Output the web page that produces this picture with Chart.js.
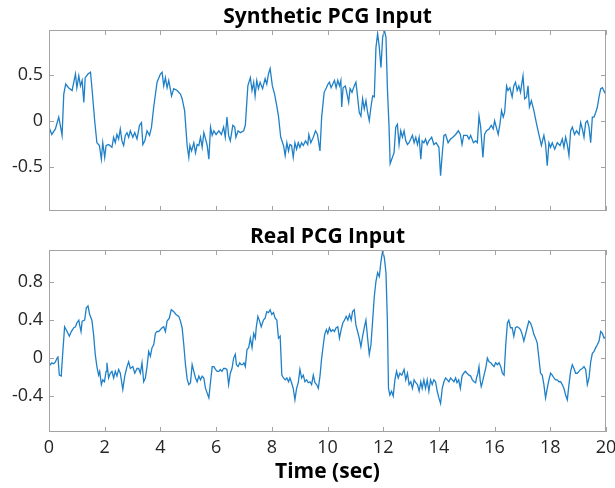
<!DOCTYPE html>
<html>
<head>
<meta charset="utf-8">
<script src="https://cdn.jsdelivr.net/npm/chart.js@4"></script>
<style>
  body { margin: 0; background: #fff; }
  #wrap { position: relative; width: 615px; height: 488px; }
  canvas { position: absolute; left: 0; }
</style>
</head>
<body>
<div id="wrap">
  <canvas id="synth-chart" width="615" height="220" style="top:0"></canvas>
  <canvas id="real-chart" width="615" height="268" style="top:220px"></canvas>
</div>
<script>
// tick labels
const xTicks = [0, 2, 4, 6, 8, 10, 12, 14, 16, 18, 20];
const synthTicks = [-0.5, 0, 0.5];
const realTicks = [-0.4, 0, 0.4, 0.8];

// synthetic PCG
const synthTime = [0.00,0.05,0.10,0.23,0.35,0.40,0.47,0.53,0.60,0.70,0.83,0.95,1.00,1.07,1.13,1.19,1.25,1.30,1.40,1.49,1.55,1.64,1.72,1.81,1.88,1.93,2.00,2.05,2.14,2.26,2.32,2.38,2.44,2.50,2.56,2.62,2.68,2.74,2.80,2.86,2.92,3.01,3.08,3.16,3.25,3.32,3.37,3.44,3.52,3.61,3.68,3.76,3.88,4.00,4.06,4.12,4.18,4.24,4.30,4.40,4.48,4.60,4.72,4.78,4.87,4.96,5.02,5.06,5.12,5.20,5.26,5.32,5.38,5.44,5.50,5.56,5.64,5.68,5.74,5.80,5.86,5.92,6.00,6.10,6.19,6.27,6.33,6.39,6.45,6.51,6.60,6.67,6.71,6.79,6.87,6.99,7.05,7.14,7.23,7.29,7.35,7.40,7.46,7.52,7.58,7.67,7.76,7.82,7.88,7.94,8.02,8.10,8.18,8.24,8.32,8.42,8.48,8.54,8.60,8.65,8.71,8.77,8.83,8.89,8.95,9.01,9.07,9.13,9.21,9.29,9.33,9.40,9.49,9.57,9.64,9.73,9.79,9.88,9.96,10.02,10.07,10.13,10.19,10.25,10.31,10.37,10.43,10.48,10.51,10.56,10.64,10.69,10.76,10.81,10.88,10.96,11.02,11.08,11.14,11.20,11.26,11.32,11.38,11.44,11.50,11.56,11.62,11.68,11.74,11.80,11.86,11.92,11.98,12.04,12.10,12.15,12.21,12.25,12.33,12.39,12.45,12.51,12.57,12.63,12.69,12.75,12.81,12.87,12.93,12.99,13.05,13.11,13.17,13.23,13.29,13.35,13.40,13.46,13.52,13.58,13.64,13.74,13.82,13.90,14.00,14.06,14.12,14.18,14.24,14.33,14.42,14.50,14.60,14.70,14.77,14.83,14.89,15.01,15.08,15.14,15.24,15.32,15.38,15.44,15.50,15.58,15.64,15.71,15.80,15.88,15.95,16.00,16.06,16.13,16.19,16.25,16.31,16.36,16.43,16.48,16.55,16.63,16.69,16.75,16.81,16.87,16.93,17.02,17.08,17.15,17.20,17.25,17.32,17.41,17.51,17.59,17.68,17.77,17.83,17.89,17.95,18.01,18.07,18.16,18.25,18.35,18.43,18.49,18.55,18.61,18.67,18.73,18.79,18.87,18.94,19.03,19.09,19.15,19.21,19.27,19.33,19.39,19.45,19.51,19.57,19.63,19.69,19.75,19.81,19.87,19.95,20.00];
const synthValues = [-0.07,-0.11,-0.15,-0.09,0.04,-0.04,-0.16,0.29,0.40,0.36,0.33,0.51,0.36,0.49,0.38,0.44,0.20,0.47,0.51,0.53,0.33,0.00,-0.24,-0.27,-0.42,-0.24,-0.40,-0.27,-0.26,-0.29,-0.18,-0.24,-0.15,-0.20,-0.09,-0.22,-0.27,-0.16,-0.13,-0.18,-0.11,-0.18,-0.13,-0.20,-0.05,-0.02,-0.26,-0.22,-0.11,-0.16,-0.07,0.15,0.42,0.51,0.53,0.38,0.47,0.36,0.44,0.27,0.35,0.33,0.29,0.24,0.11,-0.27,-0.40,-0.27,-0.33,-0.24,-0.35,-0.26,-0.27,-0.18,-0.29,-0.13,-0.22,-0.27,-0.42,-0.07,-0.16,-0.11,-0.15,-0.11,-0.15,-0.07,-0.18,0.04,-0.16,-0.22,-0.05,-0.07,-0.18,-0.11,-0.13,-0.11,-0.05,0.38,0.47,0.33,0.42,0.27,0.44,0.35,0.42,0.35,0.46,0.40,0.51,0.57,0.38,0.29,0.16,0.05,-0.18,-0.27,-0.38,-0.24,-0.33,-0.26,-0.27,-0.40,-0.24,-0.31,-0.24,-0.29,-0.24,-0.27,-0.22,-0.26,-0.15,-0.24,-0.18,-0.11,-0.15,-0.33,0.04,0.31,0.36,0.40,0.42,0.36,0.40,0.44,0.36,0.44,0.38,0.44,0.15,0.36,0.38,0.31,0.20,0.35,0.31,0.38,0.42,0.26,0.09,0.05,0.24,0.13,0.22,0.09,0.00,0.15,0.27,0.26,0.80,0.95,0.80,0.58,0.91,0.99,0.91,0.36,-0.07,-0.47,-0.40,-0.35,-0.07,-0.04,-0.26,-0.11,-0.18,-0.11,-0.22,-0.26,-0.24,-0.20,-0.16,-0.24,-0.18,-0.26,-0.18,-0.42,-0.22,-0.24,-0.20,-0.26,-0.22,-0.18,-0.26,-0.24,-0.29,-0.60,-0.36,-0.16,-0.15,-0.24,-0.20,-0.18,-0.15,-0.11,-0.15,-0.26,-0.16,-0.16,-0.20,-0.16,-0.24,-0.22,-0.24,0.05,-0.07,-0.40,-0.15,-0.11,-0.09,-0.05,-0.09,0.00,-0.07,-0.15,-0.04,0.11,0.04,0.09,0.38,0.33,0.36,0.26,0.38,0.42,0.33,0.38,0.31,0.49,0.24,0.26,0.38,0.15,0.22,0.11,-0.04,-0.15,-0.27,-0.16,-0.26,-0.49,-0.24,-0.29,-0.24,-0.31,-0.24,-0.27,-0.20,-0.29,-0.18,-0.26,-0.38,-0.11,-0.07,-0.15,-0.11,-0.15,-0.02,-0.09,-0.18,-0.02,0.00,-0.07,-0.24,0.04,0.04,0.09,0.15,0.26,0.35,0.36,0.31,0.29];

// real PCG
const realTime = [0.00,0.05,0.10,0.17,0.23,0.29,0.32,0.37,0.44,0.49,0.56,0.65,0.73,0.80,0.89,0.95,1.00,1.07,1.10,1.15,1.19,1.28,1.34,1.40,1.46,1.54,1.60,1.66,1.72,1.78,1.82,1.88,1.93,1.99,2.05,2.08,2.14,2.20,2.26,2.32,2.38,2.44,2.50,2.56,2.65,2.72,2.80,2.86,2.92,3.01,3.08,3.16,3.22,3.28,3.34,3.40,3.46,3.52,3.58,3.64,3.70,3.76,3.82,3.88,3.94,4.00,4.06,4.12,4.18,4.24,4.32,4.39,4.48,4.56,4.66,4.72,4.78,4.84,4.90,4.96,5.02,5.08,5.14,5.20,5.26,5.32,5.38,5.44,5.50,5.56,5.62,5.68,5.74,5.80,5.86,5.92,5.98,6.04,6.10,6.15,6.21,6.27,6.33,6.39,6.45,6.51,6.57,6.63,6.69,6.73,6.79,6.85,6.90,6.95,7.00,7.05,7.11,7.17,7.23,7.29,7.35,7.41,7.44,7.50,7.55,7.62,7.70,7.76,7.82,7.88,7.94,8.00,8.06,8.12,8.18,8.24,8.30,8.36,8.42,8.48,8.54,8.60,8.65,8.71,8.77,8.83,8.89,8.95,9.01,9.07,9.13,9.19,9.25,9.31,9.37,9.43,9.49,9.55,9.61,9.67,9.73,9.79,9.85,9.90,9.96,10.01,10.07,10.13,10.19,10.25,10.31,10.37,10.43,10.49,10.55,10.61,10.67,10.73,10.79,10.85,10.90,10.96,11.02,11.08,11.14,11.20,11.26,11.32,11.38,11.44,11.50,11.56,11.62,11.68,11.74,11.80,11.86,11.92,11.98,12.04,12.10,12.15,12.19,12.24,12.30,12.36,12.42,12.48,12.54,12.60,12.67,12.75,12.81,12.87,12.93,12.99,13.05,13.11,13.17,13.23,13.29,13.35,13.40,13.46,13.52,13.58,13.64,13.70,13.76,13.82,13.88,13.94,14.00,14.06,14.12,14.18,14.24,14.30,14.36,14.42,14.48,14.54,14.60,14.65,14.71,14.77,14.83,14.89,14.95,15.01,15.08,15.14,15.20,15.26,15.32,15.35,15.40,15.44,15.48,15.52,15.56,15.62,15.68,15.74,15.80,15.86,15.92,15.98,16.04,16.10,16.16,16.22,16.28,16.34,16.40,16.46,16.51,16.57,16.63,16.69,16.75,16.81,16.87,16.93,16.99,17.05,17.11,17.17,17.23,17.29,17.35,17.41,17.47,17.53,17.59,17.65,17.71,17.77,17.83,17.89,17.95,18.01,18.07,18.13,18.19,18.25,18.31,18.37,18.43,18.49,18.55,18.61,18.67,18.73,18.79,18.85,18.91,18.97,19.03,19.09,19.15,19.21,19.27,19.33,19.39,19.45,19.51,19.57,19.63,19.69,19.75,19.81,19.87,19.93,20.00];
const realValues = [-0.05,-0.07,-0.05,-0.06,-0.04,0.00,0.02,-0.18,-0.19,0.04,0.33,0.28,0.23,0.28,0.32,0.33,0.37,0.40,0.35,0.28,0.39,0.40,0.53,0.55,0.46,0.40,0.25,0.04,-0.09,-0.18,-0.14,-0.28,-0.23,-0.25,-0.14,-0.05,-0.21,-0.16,-0.14,-0.21,-0.14,-0.19,-0.12,-0.16,-0.33,-0.19,-0.09,-0.04,-0.11,-0.09,-0.16,-0.11,-0.11,-0.16,-0.05,-0.25,-0.21,-0.09,0.07,0.02,0.11,0.14,0.26,0.28,0.28,0.30,0.32,0.33,0.28,0.39,0.42,0.51,0.49,0.46,0.44,0.39,0.32,0.14,-0.07,-0.22,-0.28,-0.26,-0.07,-0.14,-0.21,-0.25,-0.19,-0.23,-0.19,-0.21,-0.32,-0.37,-0.42,-0.25,-0.09,-0.09,-0.12,-0.14,-0.14,-0.12,-0.14,-0.11,-0.11,-0.12,-0.28,-0.16,-0.11,0.00,0.04,-0.07,-0.09,-0.05,-0.07,-0.07,-0.05,-0.09,0.09,0.11,0.21,0.11,0.26,0.21,0.32,0.44,0.40,0.33,0.40,0.42,0.49,0.48,0.51,0.46,0.48,0.42,0.40,0.21,0.23,-0.18,-0.21,-0.23,-0.21,-0.25,-0.21,-0.26,-0.32,-0.44,-0.32,-0.26,-0.12,-0.21,-0.18,-0.25,-0.23,-0.26,-0.25,-0.28,-0.18,-0.26,-0.28,-0.32,-0.19,0.00,0.14,0.25,0.30,0.26,0.32,0.28,0.30,0.28,0.32,0.33,0.21,0.30,0.37,0.40,0.44,0.40,0.46,0.40,0.49,0.51,0.35,0.28,0.21,0.12,0.23,0.32,0.40,0.21,0.04,0.14,0.39,0.65,0.81,0.90,0.86,1.02,1.13,1.06,0.90,0.39,-0.32,-0.39,-0.35,-0.40,-0.23,-0.14,-0.21,-0.16,-0.18,-0.12,-0.23,-0.16,-0.28,-0.25,-0.32,-0.23,-0.26,-0.28,-0.35,-0.25,-0.32,-0.23,-0.32,-0.23,-0.35,-0.23,-0.28,-0.23,-0.25,-0.35,-0.42,-0.48,-0.32,-0.25,-0.21,-0.23,-0.25,-0.21,-0.23,-0.25,-0.21,-0.26,-0.23,-0.32,-0.19,-0.16,-0.14,-0.16,-0.18,-0.19,-0.23,-0.25,-0.26,-0.21,-0.16,-0.09,-0.23,-0.30,-0.26,-0.18,-0.11,0.00,-0.04,-0.05,-0.07,-0.09,-0.05,-0.07,-0.05,-0.09,-0.16,-0.18,0.14,0.37,0.40,0.32,0.32,0.23,0.32,0.33,0.32,0.30,0.25,0.18,0.25,0.32,0.39,0.37,0.32,0.25,0.21,0.16,0.00,-0.16,-0.18,-0.28,-0.42,-0.32,-0.23,-0.16,-0.18,-0.21,-0.23,-0.23,-0.25,-0.25,-0.28,-0.32,-0.39,-0.44,-0.28,-0.14,-0.07,-0.11,-0.16,-0.16,-0.14,-0.12,-0.11,-0.09,-0.12,-0.28,-0.21,-0.04,0.05,0.07,0.11,0.14,0.18,0.28,0.26,0.21,0.23];

const boxColor = '#a3a3a3';
const lineColor = '#1f80c8';
const textColor = '#262626';

// matlab style box with ticks pointing inwards on all four sides
const matlabBox = {
  id: 'matlabBox',
  afterDraw(chart) {
    const { ctx, chartArea: a, scales } = chart;
    const len = 5;
    ctx.save();
    ctx.strokeStyle = boxColor;
    ctx.lineWidth = 1;
    ctx.strokeRect(a.left + 0.5, a.top + 0.5, a.right - a.left - 1, a.bottom - a.top - 1);
    ctx.beginPath();
    scales.x.ticks.forEach(t => {
      const px = Math.round(scales.x.getPixelForValue(t.value)) + 0.5;
      ctx.moveTo(px, a.bottom); ctx.lineTo(px, a.bottom - len);
      ctx.moveTo(px, a.top); ctx.lineTo(px, a.top + len);
    });
    scales.y.ticks.forEach(t => {
      const py = Math.round(scales.y.getPixelForValue(t.value)) + 0.5;
      ctx.moveTo(a.left, py); ctx.lineTo(a.left + len, py);
      ctx.moveTo(a.right, py); ctx.lineTo(a.right - len, py);
    });
    ctx.stroke();
    ctx.restore();
  }
};

const titleFont = { family: 'Open Sans', size: 21, weight: 'bold' };
const tickFont = { family: 'Open Sans', size: 18 };

function makeChart(id, title, times, values, yMin, yMax, yTicks, bottomPanel) {
  const ctx = document.getElementById(id).getContext('2d');
  return new Chart(ctx, {
    type: 'line',
    data: {
      datasets: [{
        data: times.map((t, i) => ({ x: t, y: values[i] })),
        borderColor: lineColor,
        borderWidth: 1.3,
        pointRadius: 0,
        tension: 0
      }]
    },
    options: {
      responsive: false,
      animation: false,
      layout: { padding: { left: 0, right: 9, top: 0, bottom: 0 } },
      plugins: {
        legend: { display: false },
        tooltip: { enabled: false }
      },
      scales: {
        x: {
          type: 'linear',
          min: 0,
          max: 20,
          grid: { display: false, drawTicks: false },
          border: { display: false },
          afterBuildTicks: s => { s.ticks = xTicks.map(v => ({ value: v })); },
          afterFit: s => {
            s.height = bottomPanel ? 56 : 9;
            s.paddingLeft = 0;
            s.paddingRight = 0;
          },
          ticks: {
            display: bottomPanel,
            autoSkip: false,
            maxRotation: 0,
            padding: 5,
            color: textColor,
            font: tickFont
          },
          title: {
            display: bottomPanel,
            text: 'Time (sec)',
            color: '#000',
            font: titleFont,
            padding: { top: 0, bottom: 3 }
          }
        },
        // top axis only carries the panel title, centred over the plot box
        xTop: {
          type: 'linear',
          position: 'top',
          min: 0,
          max: 20,
          grid: { display: false, drawTicks: false },
          border: { display: false },
          ticks: { display: false },
          afterFit: s => {
            s.height = 30;
            s.paddingLeft = 0;
            s.paddingRight = 0;
          },
          title: {
            display: true,
            text: title,
            color: '#000',
            font: titleFont,
            padding: { top: 4, bottom: 0 }
          }
        },
        y: {
          min: yMin,
          max: yMax,
          grid: { display: false, drawTicks: false },
          border: { display: false },
          afterBuildTicks: s => { s.ticks = yTicks.map(v => ({ value: v })); },
          afterFit: s => {
            s.width = 49;
            s.paddingTop = 0;
            s.paddingBottom = 0;
          },
          ticks: {
            padding: 6,
            color: textColor,
            font: tickFont
          }
        }
      }
    },
    plugins: [matlabBox]
  });
}

makeChart('synth-chart', 'Synthetic PCG Input', synthTime, synthValues, -0.985, 0.99, synthTicks, false);
makeChart('real-chart', 'Real PCG Input', realTime, realValues, -0.78, 1.14, realTicks, true);
</script>
</body>
</html>
